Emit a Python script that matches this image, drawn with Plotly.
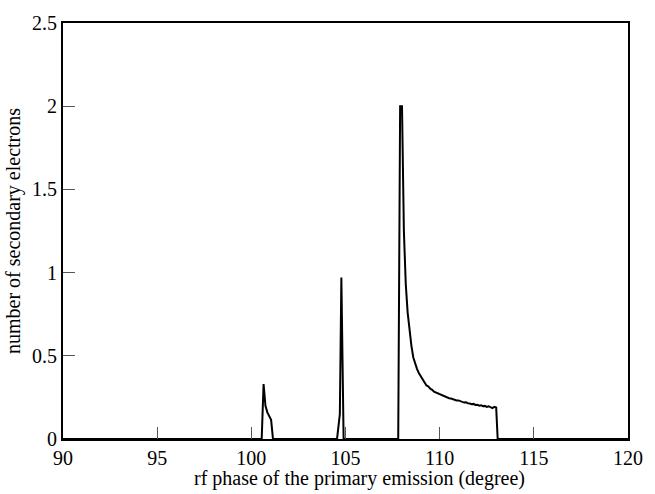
import plotly.graph_objects as go

# rf phase (degree) and number of secondary electrons
phase = [90.0, 100.55, 100.65, 100.75, 100.85, 100.95, 101.05, 101.15,
         104.55, 104.7, 104.78, 104.9,
         107.8, 107.9, 108.0, 108.1, 108.2, 108.3, 108.4, 108.5, 108.6, 108.7,
         108.8, 108.9, 109.0, 109.1, 109.2, 109.3, 109.4, 109.5, 109.6, 109.7,
         109.8, 109.9, 110.0, 110.1, 110.2, 110.3, 110.4, 110.5, 110.6, 110.7,
         110.8, 110.9, 111.0, 111.1, 111.2, 111.3, 111.4, 111.5, 111.6, 111.7,
         111.8, 111.9, 112.0, 112.1, 112.2, 112.3, 112.4, 112.5, 112.6, 112.7,
         112.8, 112.9, 113.0, 113.08, 120.0]
electrons = [0.0, 0.0, 0.33, 0.2, 0.16, 0.135, 0.115, 0.0,
             0.0, 0.15, 0.97, 0.0,
             0.0, 2.0, 2.0, 1.25, 0.93, 0.76, 0.64, 0.56, 0.49, 0.45,
             0.42, 0.395, 0.375, 0.352, 0.34, 0.322, 0.316, 0.302, 0.296, 0.284,
             0.279, 0.272, 0.268, 0.262, 0.26, 0.252, 0.251, 0.245, 0.243, 0.238,
             0.237, 0.231, 0.232, 0.226, 0.224, 0.219, 0.221, 0.214, 0.213, 0.209,
             0.211, 0.205, 0.206, 0.2, 0.203, 0.197, 0.199, 0.193, 0.197, 0.189,
             0.186, 0.193, 0.189, 0.0, 0.0]

x_ticks = [90, 95, 100, 105, 110, 115, 120]
y_ticks = [0, 0.5, 1, 1.5, 2, 2.5]
y_tick_text = ["0", "0.5", "1", "1.5", "2", "2.5"]
x_title = "rf phase of the primary emission (degree)"
y_title = "number of secondary electrons"

FONT = "Liberation Serif"

fig = go.Figure()
fig.add_trace(go.Scatter(x=phase, y=electrons, mode="lines",
                         line=dict(color="black", width=2), showlegend=False))

fig.update_layout(
    width=655, height=494,
    margin=dict(l=63, r=17, t=17, b=55),
    paper_bgcolor="white", plot_bgcolor="white",
    font=dict(family=FONT, size=20, color="black"),
    xaxis=dict(range=[90, 120], tickvals=x_ticks, ticks="inside", ticklen=12,
               tickwidth=1, tickcolor="#555", showline=True, linecolor="black",
               linewidth=2, mirror=True, showgrid=False, zeroline=False,
               tickfont=dict(family=FONT, size=20)),
    yaxis=dict(range=[0, 2.5], tickvals=y_ticks, ticktext=y_tick_text,
               ticks="inside", ticklen=12, tickwidth=1, tickcolor="#555",
               showline=True, linecolor="black", linewidth=2, mirror=True,
               showgrid=False, zeroline=False,
               title=dict(text=y_title, standoff=6,
                          font=dict(family=FONT, size=20)),
               tickfont=dict(family=FONT, size=20)),
)

fig.add_annotation(text=x_title, xref="paper", yref="paper", x=0.525, y=0,
                   xanchor="center", yanchor="middle", yshift=-39,
                   showarrow=False, borderpad=0,
                   font=dict(family=FONT, size=20, color="black"))

fig.write_html("out.html")
